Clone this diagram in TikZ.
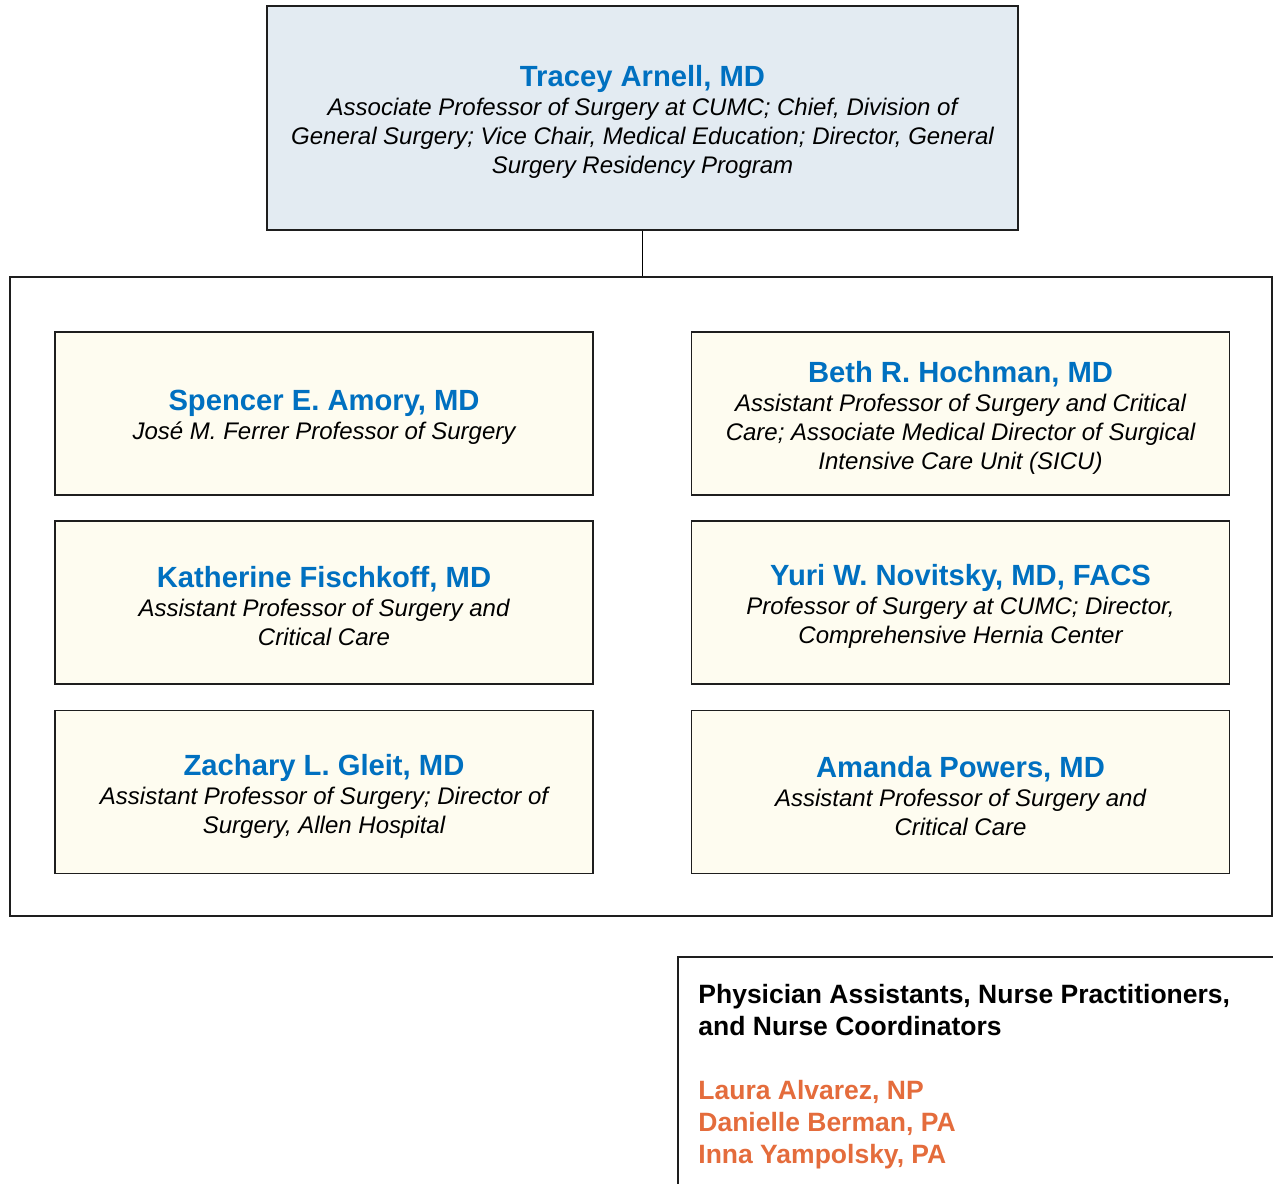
\documentclass[tikz,border=0pt]{standalone}
\usepackage{fontspec}
\setmainfont{Liberation Sans}
\definecolor{nameblue}{RGB}{0,112,192}
\definecolor{orgorange}{RGB}{228,108,60}
\definecolor{topfill}{RGB}{227,235,242}
\definecolor{childfill}{RGB}{254,252,240}
\definecolor{edge}{RGB}{30,30,30}
\newcommand{\pname}[1]{{\fontsize{14.6}{15.5}\selectfont\bfseries\upshape\color{nameblue}#1}}
\begin{document}
\begin{tikzpicture}[x=0.5pt,y=-0.5pt,
  frame/.style={draw=edge, line width=0.75pt, inner sep=0pt},
  txt/.style={align=center, font=\fontsize{12}{14.5}\selectfont\itshape, inner sep=0pt},
  topbox/.style={frame, fill=topfill, minimum width=375.5pt, minimum height=112pt},
  childbox/.style={frame, fill=childfill, minimum width=269pt, minimum height=81.5pt},
  group/.style={frame, minimum width=631pt, minimum height=319.5pt},
  link/.style={draw=black, line width=0.75pt}]
\useasboundingbox (0,0) rectangle (1273,1183);

% top
\node[topbox] (top) at (642.5,118) {};
\node[txt] (toptxt) at ([yshift=-2pt]top.center) {\pname{Tracey Arnell, MD}\\
  Associate Professor of Surgery at CUMC; Chief, Division of\\
  General Surgery; Vice Chair, Medical Education; Director, General\\
  Surgery Residency Program};

% group frame
\node[group] (grp) at (641,596.5) {};
\draw[link] (top.south) -- (top.south |- grp.north);

% children
\node[childbox] (amory) at (324,413.5) {};
\node[txt] (amorytxt) at ([yshift=-2pt]amory.center) {\pname{Spencer E. Amory, MD}\\
  José M. Ferrer Professor of Surgery};

\node[childbox] (hochman) at (960.5,413.5) {};
\node[txt] (hochmantxt) at ([yshift=-2pt]hochman.center) {\pname{Beth R. Hochman, MD}\\
  Assistant Professor of Surgery and Critical\\
  Care; Associate Medical Director of Surgical\\
  Intensive Care Unit (SICU)};

\node[childbox] (fischkoff) at (324,602.5) {};
\node[txt] (fischkofftxt) at ([yshift=-2pt]fischkoff.center) {\pname{Katherine Fischkoff, MD}\\
  Assistant Professor of Surgery and\\
  Critical Care};

\node[childbox] (novitsky) at (960.5,602.5) {};
\node[txt] (novitskytxt) at ([yshift=-2pt]novitsky.center) {\pname{Yuri W. Novitsky, MD, FACS}\\
  Professor of Surgery at CUMC; Director,\\
  Comprehensive Hernia Center};

\node[childbox] (gleit) at (324,792) {};
\node[txt] (gleittxt) at ([yshift=-2pt]gleit.center) {\pname{Zachary L. Gleit, MD}\\
  Assistant Professor of Surgery; Director of\\
  Surgery, Allen Hospital};

\node[childbox] (powers) at (960.5,792) {};
\node[txt] (powerstxt) at ([yshift=-2pt]powers.center) {\pname{Amanda Powers, MD}\\
  Assistant Professor of Surgery and\\
  Critical Care};

% bottom box
\node[inner sep=0pt, minimum width=297.5pt, minimum height=113pt, anchor=north west] (pabox) at (678,957) {};
\draw[link, draw=edge] (pabox.south west) -- (pabox.north west) -- (pabox.north east);
\node[anchor=base west, align=left, inner sep=0pt,
  font=\fontsize{13.25}{16}\selectfont\bfseries] (patxt) at (698,1163.5)
  {Physician Assistants, Nurse Practitioners,\\
   and Nurse Coordinators\\[16pt]
   \textcolor{orgorange}{Laura Alvarez, NP}\\
   \textcolor{orgorange}{Danielle Berman, PA}\\
   \textcolor{orgorange}{Inna Yampolsky, PA}};
\end{tikzpicture}
\end{document}
